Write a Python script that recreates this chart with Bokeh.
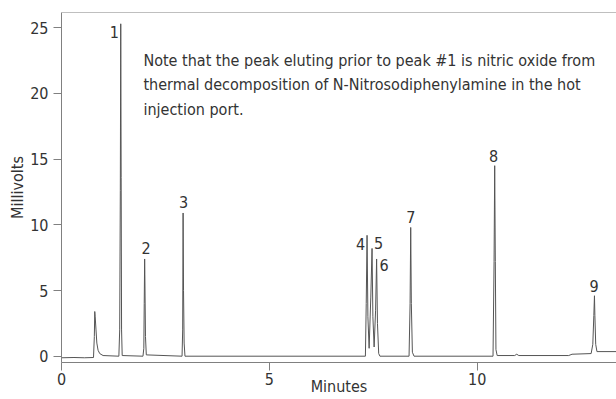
from bokeh.plotting import figure
from bokeh.models import Range1d, FixedTicker, Label, ColumnDataSource, Span
from bokeh.core.properties import value
from bokeh.embed import file_html
from bokeh.resources import INLINE

# Chromatogram trace (minutes, millivolts)
trace_min = [0.00, 0.30, 0.55, 0.77, 0.79, 0.80, 0.81, 0.83, 0.85, 0.88, 0.92, 1.00,
             1.38, 1.40, 1.415, 1.425, 1.435, 1.445, 1.46,
             1.96, 1.98, 1.99, 2.00, 2.005, 2.02, 2.04,
             2.90, 2.915, 2.925, 2.935, 2.95, 2.97,
             7.31, 7.33, 7.35, 7.37, 7.40, 7.44, 7.47, 7.49, 7.52, 7.555, 7.58, 7.60, 7.63, 7.66,
             8.36, 8.385, 8.40, 8.415, 8.44, 8.48,
             10.38, 10.405, 10.42, 10.435, 10.45, 10.48,
             10.90, 10.95, 11.00, 12.20, 12.28, 12.74, 12.78, 12.805, 12.82, 12.83, 12.85, 12.88, 13.35]
trace_mv = [-0.12, -0.10, -0.12, -0.10, 1.5, 3.4, 3.0, 2.0, 1.0, 0.45, 0.2, 0.05,
            0.0, 2.0, 12.6, 25.3, 13.6, 2.0, 0.05,
            0.0, 0.6, 4.0, 7.4, 6.2, 1.5, 0.1,
            0.0, 2.0, 10.9, 5.0, 1.0, 0.0,
            0.0, 4.0, 9.2, 3.0, 0.6, 4.5, 8.2, 3.0, 0.7, 3.5, 7.4, 2.5, 0.2, 0.0,
            0.0, 4.0, 9.8, 4.0, 0.3, 0.0,
            0.0, 7.2, 14.5, 7.2, 0.5, 0.05,
            0.05, 0.15, 0.05, 0.05, 0.15, 0.2, 0.9, 3.1, 4.6, 3.1, 0.9, 0.35, 0.35]

# Numbered peaks
peak_ids = ["1", "2", "3", "4", "5", "6", "7", "8", "9"]
peak_min = [1.425, 2.00, 2.925, 7.35, 7.47, 7.58, 8.40, 10.42, 12.82]
peak_mv = [25.3, 7.4, 10.9, 9.2, 8.2, 7.4, 9.8, 14.5, 4.6]

x_ticks = [0, 5, 10]
y_ticks = [0, 5, 10, 15, 20, 25]

note = ("Note that the peak eluting prior to peak #1 is nitric oxide from\n"
        "thermal decomposition of N-Nitrosodiphenylamine in the hot\n"
        "injection port.")

FONT = "DejaVu Sans Condensed, Roboto Condensed, Roboto"
TXT = "#333333"
AX = "#808080"
FS = "16px"

# label offsets in screen pixels (style)
lab_dx = [-6.5, 1.5, 0.5, -6.5, 6.5, 7.5, 0, -1, -0.5]
lab_dy = [8.5, -11, -10.5, 8.5, -5.5, 6.5, -10.5, -10, -10]

p = figure(width=616, height=399, output_backend="svg", toolbar_location=None,
           x_range=Range1d(0, 13.35), y_range=Range1d(-0.48, 26.16),
           min_border_left=61, min_border_right=0, min_border_top=12, min_border_bottom=37)
p.outline_line_color = None
p.xgrid.visible = False
p.ygrid.visible = False

p.line(trace_min, trace_mv, line_color="#555555", line_width=1)

src = ColumnDataSource(dict(x=peak_min, y=peak_mv, t=peak_ids, dx=lab_dx, dy=lab_dy))
p.text(x="x", y="y", text="t", x_offset="dx", y_offset="dy", source=src,
       text_font=value(FONT), text_font_size=FS, text_color=TXT,
       text_align="center", text_baseline="middle")

p.add_layout(Label(x=1.97, y=23.26, text=note, text_font=FONT, text_font_size=FS,
                   text_color=TXT, text_baseline="top", text_align="left",
                   text_line_height=1.31))

# top frame line
p.add_layout(Span(location=26.16, dimension="width", line_color=AX, line_width=1))

for ax in (p.xaxis[0], p.yaxis[0]):
    ax.axis_line_color = AX
    ax.major_tick_line_color = AX
    ax.minor_tick_line_color = None
    ax.major_tick_in = 0
    ax.major_tick_out = 8
    ax.major_label_text_font = FONT
    ax.major_label_text_font_size = FS
    ax.major_label_text_color = TXT
    ax.axis_label_text_font = FONT
    ax.axis_label_text_font_size = FS
    ax.axis_label_text_color = TXT
    ax.axis_label_text_font_style = "normal"

p.xaxis[0].ticker = FixedTicker(ticks=x_ticks)
p.yaxis[0].ticker = FixedTicker(ticks=y_ticks)
p.xaxis[0].axis_label = "Minutes"
p.yaxis[0].axis_label = "Millivolts"
p.xaxis[0].major_label_standoff = 2
p.xaxis[0].axis_label_standoff = -11
p.yaxis[0].major_label_standoff = 5
p.yaxis[0].axis_label_standoff = 0

open("out.html", "w").write(file_html(p, INLINE))
